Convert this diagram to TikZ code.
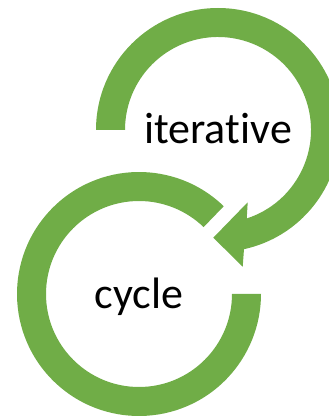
\documentclass[tikz,border=0pt]{standalone}
\usepackage{fontspec}
\setmainfont{Carlito}[Ligatures=NoCommon,RawFeature={-liga;-clig;-dlig;-calt}]
\definecolor{ringgreen}{HTML}{70AD47}
\begin{document}
\begin{tikzpicture}[x=1pt,y=1pt]
\tikzset{
  ring/.style={fill=ringgreen,draw=none},
  lbl/.style={anchor=base,inner sep=0pt,text=black,font=\fontsize{44}{52}\selectfont}
}
\useasboundingbox (0,0) rectangle (329,416);
\begin{scope}
\clip (0,0) rectangle (329,416);
% upper arrow
\fill[ring] ([shift={(218,286)}]180:122) arc[start angle=180,end angle=-77.7,radius=122]
  -- (242.7,149.3) -- (213.3,178.3) -- (247.7,213.7)
  -- ([shift={(218,286)}]-72:93) arc[start angle=-72,end angle=180,radius=93] -- cycle;
% lower ring
\fill[ring] ([shift={(139,122)}]46:122) arc[start angle=46,end angle=360,radius=122]
  -- ([shift={(139,122)}]0:93) arc[start angle=360,end angle=46,radius=93] -- cycle;
\end{scope}
\node[lbl] (iter) at (218,272) {itera\mbox{t}\mbox{i}ve};
\node[lbl] (cyc) at (139,107.7) {cycle};
\end{tikzpicture}
\end{document}
